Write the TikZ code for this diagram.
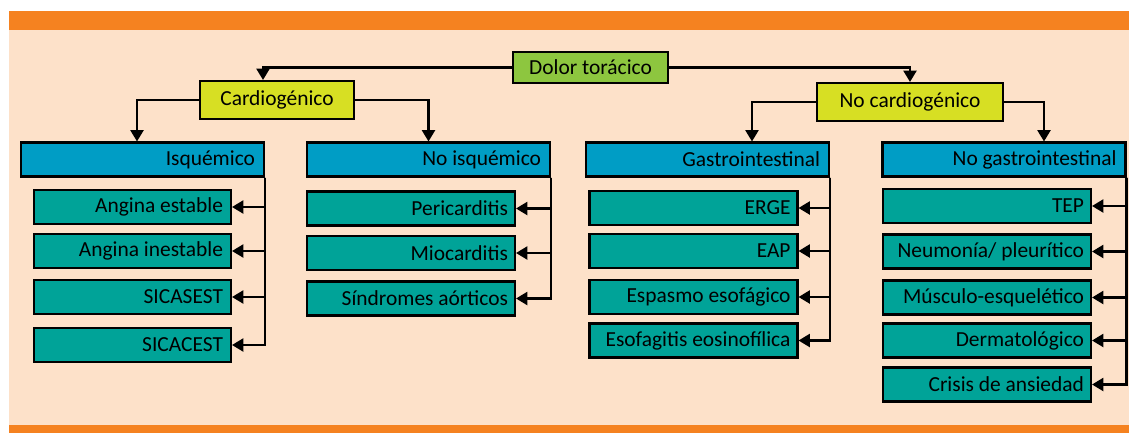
\documentclass[tikz,border=0pt]{standalone}
\usepackage{fontspec}
\setmainfont{Carlito}
\usetikzlibrary{arrows.meta}
\definecolor{naranja}{RGB}{245,130,32}
\definecolor{salmon}{RGB}{253,225,201}
\definecolor{verde}{RGB}{141,198,63}
\definecolor{amarillo}{RGB}{215,223,35}
\definecolor{azul}{RGB}{0,157,197}
\definecolor{turquesa}{RGB}{0,163,152}

\begin{document}
\begin{tikzpicture}[x=0.02cm,y=-0.02cm,
	caja/.style={draw,line width=1.2pt,font=\fontsize{12.2}{14}\selectfont,inner ysep=0pt,inner xsep=0.14cm},
	raiz/.style={caja,fill=verde,minimum height=0.62cm,minimum width=3.1cm},
	tipo/.style={caja,fill=amarillo,minimum height=0.76cm},
	grupo/.style={caja,fill=azul,minimum height=0.68cm,minimum width=4.86cm,text width=4.5cm,align=flush right},
	hoja/.style={caja,fill=turquesa,minimum height=0.68cm,minimum width=4.16cm,text width=3.88cm,align=flush right},
	hojaiz/.style={hoja,minimum width=3.94cm,text width=3.62cm},
	flecha/.style={line width=1.2pt,-{Triangle[length=6.5pt,width=7.5pt]}}]
	\useasboundingbox (0,0) rectangle (1129,433);
	\fill[white] (0,0) rectangle (1129,433);
	\fill[salmon] (9,29) rectangle (1129,425);
	\fill[naranja] (9,11) rectangle (1129,30);
	\fill[naranja] (9,425) rectangle (1129,433);

	\node[raiz] (dolor) at (590.5,67.5) {Dolor torácico};
	\node[tipo,minimum width=3.08cm] (cardio) at (277,100) {Cardiogénico};
	\node[tipo,minimum width=3.72cm] (nocardio) at (910,102) {No cardiogénico};

	\node[grupo] (isq) at (142.5,159.5) {Isquémico};
	\node[grupo] (noisq) at (428.5,159.5) {No isquémico};
	\node[grupo] (gastro) at (707.5,159.5) {Gastrointestinal};
	\node[grupo] (nogastro) at (1004,159.5) {No gastrointestinal};

	\node[hojaiz] (estable) at (132.5,207) {Angina estable};
	\node[hojaiz] (inestable) at (132.5,251) {Angina inestable};
	\node[hojaiz] (sicasest) at (132.5,297) {SICASEST};
	\node[hojaiz] (sicacest) at (132.5,345) {SICACEST};

	\node[hoja] (peri) at (411,208.5) {Pericarditis};
	\node[hoja] (mio) at (411,253) {Miocarditis};
	\node[hoja] (aorticos) at (411,298.5) {Síndromes aórticos};

	\node[hoja] (erge) at (693.5,208) {ERGE};
	\node[hoja] (eap) at (693.5,251) {EAP};
	\node[hoja] (espasmo) at (693.5,297) {Espasmo esofágico};
	\node[hoja] (esofagitis) at (693.5,340.5) {Esofagitis eosinofílica};

	\node[hoja] (tep) at (987,206) {TEP};
	\node[hoja] (neumonia) at (987,251.5) {Neumonía/ pleurítico};
	\node[hoja] (musculo) at (987,297.5) {Músculo-esquelético};
	\node[hoja] (dermato) at (987,340.5) {Dermatológico};
	\node[hoja] (ansiedad) at (987,384.5) {Crisis de ansiedad};

	\draw[flecha] (dolor.west) -| ([xshift=-0.28cm]cardio.north);
	\draw[flecha] (dolor.east) -| (nocardio.north);
	\draw[flecha] (cardio.west) -| ([xshift=-0.11cm]isq.north);
	\draw[flecha] (cardio.east) -| (noisq.north);
	\draw[flecha] (nocardio.west) -| ([xshift=0.89cm]gastro.north);
	\draw[flecha] (nocardio.east) -| ([xshift=0.8cm]nogastro.north);

	\draw[flecha] (isq.south east) |- (estable.east);
	\draw[flecha] (isq.south east) |- (inestable.east);
	\draw[flecha] (isq.south east) |- (sicasest.east);
	\draw[flecha] (isq.south east) |- (sicacest.east);

	\draw[flecha] (noisq.south east) |- (peri.east);
	\draw[flecha] (noisq.south east) |- (mio.east);
	\draw[flecha] (noisq.south east) |- (aorticos.east);

	\draw[flecha] (gastro.south east) |- (erge.east);
	\draw[flecha] (gastro.south east) |- (eap.east);
	\draw[flecha] (gastro.south east) |- (espasmo.east);
	\draw[flecha] (gastro.south east) |- (esofagitis.east);

	\draw[flecha] (nogastro.south east) |- (tep.east);
	\draw[flecha] (nogastro.south east) |- (neumonia.east);
	\draw[flecha] (nogastro.south east) |- (musculo.east);
	\draw[flecha] (nogastro.south east) |- (dermato.east);
	\draw[flecha] (nogastro.south east) |- (ansiedad.east);
\end{tikzpicture}
\end{document}
